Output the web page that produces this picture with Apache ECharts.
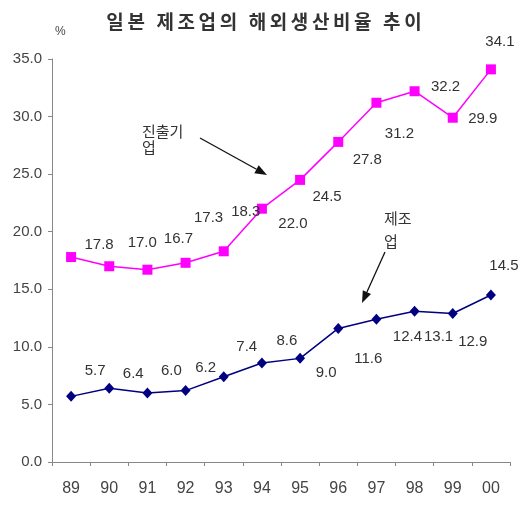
<!DOCTYPE html>
<html>
<head>
<meta charset="utf-8">
<script src="https://cdn.jsdelivr.net/npm/echarts@6/dist/echarts.min.js"></script>
<style>html,body{margin:0;padding:0;background:#fff}#c{width:522px;height:508px}</style>
</head>
<body>
<div id="c"></div>
<script>
const titleText = '일본 제조업의 해외생산비율 추이';
const categories = ['89','90','91','92','93','94','95','96','97','98','99','00'];
const overseasFirms = [17.8,17.0,16.7,17.3,18.3,22.0,24.5,27.8,31.2,32.2,29.9,34.1];
const manufacturing = [5.7,6.4,6.0,6.2,7.4,8.6,9.0,11.6,12.4,13.1,12.9,14.5];
const yTicks = {min:0, max:35, interval:5};
const unitLabel = '%';
const noteFirms = ['진출기','업'];
const noteMfg = ['제조','업'];

// label offsets (layout only)
const offA = [[28,-12],[33,-23],[31,-31],[23,-45],[22,-39],[31,15],[27,17],[29,18],[23,31],[31,-4],[30,1],[9,-28]];
const offB = [[24,-26],[24,-14],[24,-22],[20,-23],[23,-30],[25,-22],[26,14],[30,30],[31,18],[24,26],[20,28],[13,-29]];

const NUMFONT = '"Liberation Sans",Arial,sans-serif';
const KFONT = '"Noto Sans CJK KR","Noto Sans CJK SC",sans-serif';

function withLabels(vals, offs){
  return vals.map((v,i)=>({value:v,label:{offset:offs[i]}}));
}

function arrow(x1,y1,x2,y2){
  const ang = Math.atan2(y2-y1,x2-x1);
  const L=12, W=4.5;
  const bx = x2 - L*Math.cos(ang), by = y2 - L*Math.sin(ang);
  const px = -Math.sin(ang)*W, py = Math.cos(ang)*W;
  return [
    {type:'line', shape:{x1:x1,y1:y1,x2:bx,y2:by}, style:{stroke:'#111',lineWidth:1.3}},
    {type:'polygon', shape:{points:[[x2,y2],[bx+px,by+py],[bx-px,by-py]]}, style:{fill:'#111'}}
  ];
}

// title laid out per character with extra tracking
function titleGraphics(text, cx, cy, size, track){
  const cv = document.createElement('canvas').getContext('2d');
  cv.font = 'bold ' + size + 'px ' + KFONT;
  const chars = Array.from(text);
  const widths = chars.map(c=>cv.measureText(c).width);
  const total = widths.reduce((a,b)=>a+b,0) + track*(chars.length-1);
  let x = cx - total/2;
  const out = [];
  chars.forEach((c,i)=>{
    if (c !== ' ') out.push({type:'text',x:x,y:cy,style:{text:c,font:'bold '+size+'px '+KFONT,fill:'#333',verticalAlign:'middle'}});
    x += widths[i] + track;
  });
  return out;
}

const chart = echarts.init(document.getElementById('c'));
chart.setOption({
  animation:false,
  backgroundColor:'#fff',
  grid:{left:52,right:12,top:59,bottom:46,outerBoundsMode:'none'},
  xAxis:{type:'category',data:categories,boundaryGap:true,
    axisLine:{lineStyle:{color:'#888',width:1}},
    axisTick:{show:true,length:4,alignWithLabel:false,lineStyle:{color:'#888'}},
    axisLabel:{fontFamily:NUMFONT,fontSize:16,color:'#444',margin:19}},
  yAxis:{type:'value',min:yTicks.min,max:yTicks.max,interval:yTicks.interval,
    splitLine:{show:false},
    axisLine:{show:true,lineStyle:{color:'#888',width:1}},
    axisTick:{show:true,length:4,lineStyle:{color:'#888'}},
    axisLabel:{fontFamily:NUMFONT,fontSize:15,color:'#444',margin:10,formatter:v=>v.toFixed(1)}},
  series:[
    {type:'line',name:'진출기업',data:withLabels(overseasFirms,offA),
     symbol:'rect',symbolSize:10,itemStyle:{color:'#ff00ff'},lineStyle:{color:'#ff00ff',width:1.5},
     label:{show:true,position:'inside',fontFamily:NUMFONT,fontSize:15,color:'#333',formatter:p=>p.value.toFixed(1)}},
    {type:'line',name:'제조업',data:withLabels(manufacturing,offB),
     symbol:'diamond',symbolSize:[10,11],itemStyle:{color:'#000080'},lineStyle:{color:'#000080',width:1.5},
     label:{show:true,position:'inside',fontFamily:NUMFONT,fontSize:15,color:'#333',formatter:p=>p.value.toFixed(1)}}
  ],
  graphic:[
    ...titleGraphics(titleText, 264, 22, 19, 3.6),
    {type:'text',left:55,top:26,style:{text:unitLabel,fontFamily:NUMFONT,fontSize:12,fill:'#444'}},
    {type:'text',left:142,top:124,style:{text:noteFirms[0],fontFamily:KFONT,fontSize:15,fill:'#333'}},
    {type:'text',left:142,top:140,style:{text:noteFirms[1],fontFamily:KFONT,fontSize:15,fill:'#333'}},
    {type:'text',left:384,top:211,style:{text:noteMfg[0],fontFamily:KFONT,fontSize:15,fill:'#333'}},
    {type:'text',left:384,top:234,style:{text:noteMfg[1],fontFamily:KFONT,fontSize:15,fill:'#333'}},
    ...arrow(200,138,267,175),
    ...arrow(385,252,362,303)
  ]
});
</script>
</body>
</html>
